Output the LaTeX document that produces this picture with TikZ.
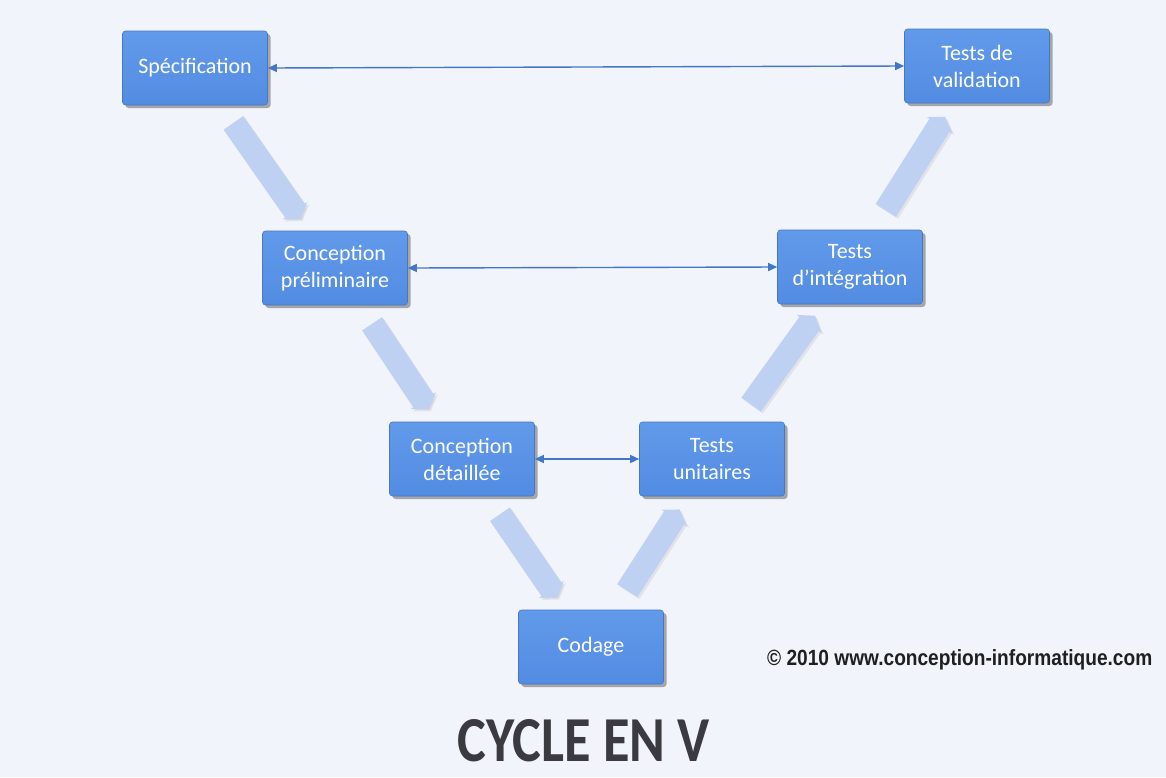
\documentclass[tikz,border=0pt]{standalone}
\usepackage{fontspec}
\setmainfont{Carlito}
\newfontfamily\arialfont{Liberation Sans}
\usetikzlibrary{arrows.meta,shadows}

\definecolor{bg}{RGB}{241,244,251}
\definecolor{boxblue}{RGB}{82,140,226}
\definecolor{boxtop}{RGB}{98,154,234}
\definecolor{linkblue}{RGB}{68,118,200}
\definecolor{flowblue}{RGB}{190,209,243}
\definecolor{titlegray}{RGB}{58,58,64}

\begin{document}
\begin{tikzpicture}[x=1pt,y=-1pt,
  stage/.style={draw=boxblue!85!black, line width=0.6pt, top color=boxtop, bottom color=boxblue,
    rounded corners=3pt, minimum width=145pt, minimum height=74pt, text=white,
    font=\fontsize{22}{27}\selectfont, align=center, inner sep=2pt,
    drop shadow={shadow xshift=3pt, shadow yshift=-3pt, fill=black!60, opacity=0.55}},
  link/.style={linkblue, line width=1.4pt,
    {Triangle[length=9pt,width=8pt]}-{Triangle[length=9pt,width=8pt]}},
  flow/.style={flowblue, line width=24pt, -{Triangle[length=10pt,width=30pt]},
    shorten <=67pt, shorten >=60pt},
  flowshade/.style={black!30, opacity=0.25, line width=24pt, -{Triangle[length=10pt,width=30pt]},
    shorten <=67pt, shorten >=60pt},
]
% page background
\fill[bg] (0,0) rectangle (1166,777);
\useasboundingbox (0,0) rectangle (1166,777);

% the seven phases of the V
\node[stage] (spec) at (195,68)  {Spécification};
\node[stage] (tv)   at (977,66)  {Tests de\\validation};
\node[stage] (cprel) at (335,268) {Conception\\préliminaire};
\node[stage] (ti)   at (850,267) {Tests\\d’intégration};
\node[stage] (cdet) at (462,459) {Conception\\détaillée};
\node[stage] (tu)   at (712,459) {Tests\\unitaires};
\node[stage] (cod)  at (591,647) {Codage};

% descending and ascending flow arrows
\foreach \a/\b in {spec/cprel, cprel/cdet, cdet/cod, cod/tu, tu/ti, ti/tv}{
  \draw[flowshade, transform canvas={shift={(2pt,-2pt)}}] (\a.center) -- (\b.center);
  \draw[flow] (\a.center) -- (\b.center);
}

% correspondence between design and test phases
\draw[link] (spec.east) -- (tv.west);
\draw[link] (cprel.east) -- (ti.west);
\draw[link] (cdet.east) -- (tu.west);

% copyright line
\node[anchor=west, inner sep=0pt, text=black!88] (copy) at (767,660)
  {\arialfont\bfseries\fontsize{22}{22}\selectfont\resizebox{385pt}{\height}{© 2010 www.conception-informatique.com}};

% title
\node[text=titlegray, inner sep=0pt] (title) at (584,741)
  {\bfseries\resizebox{252pt}{42pt}{CYCLE EN V}};
\end{tikzpicture}
\end{document}
